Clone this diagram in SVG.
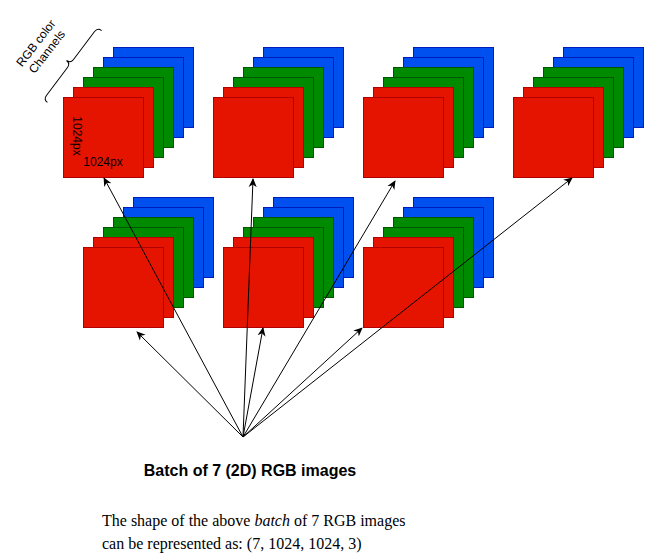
<svg xmlns="http://www.w3.org/2000/svg" xmlns:xlink="http://www.w3.org/1999/xlink" width="645" height="558" viewBox="0 0 645 558">
<style>
.r{fill:#e51400;stroke:#b20000;stroke-width:1}
.g{fill:#008a00;stroke:#005700;stroke-width:1}
.b{fill:#0050ef;stroke:#001dbc;stroke-width:1}
.c{stroke:#000;stroke-width:1;fill:none;marker-end:url(#ah)}
.lbl{font-family:"Liberation Sans",Arial,sans-serif;font-size:12px;fill:#000}
.px{font-family:"Liberation Sans",Arial,sans-serif;font-size:12px;fill:#000}
.title{font-family:"Liberation Sans",Arial,sans-serif;font-size:16px;font-weight:bold;fill:#000}
.note{font-family:"Liberation Serif","Times New Roman",serif;font-size:16px;fill:#000}
</style>
<defs>
<marker id="ah" viewBox="0 0 10 10" refX="9" refY="5" markerWidth="9" markerHeight="9" markerUnits="userSpaceOnUse" orient="auto">
<path d="M0,0.5 L10,5 L0,9.5 L3,5 z" fill="#000"/>
</marker>
<g id="stack">
<rect class="b" x="50.5" y="-49.5" width="80" height="80"/>
<rect class="b" x="40.5" y="-39.5" width="80" height="80"/>
<rect class="g" x="30.5" y="-29.5" width="80" height="80"/>
<rect class="g" x="20.5" y="-19.5" width="80" height="80"/>
<rect class="r" x="10.5" y="-9.5" width="80" height="80"/>
<rect class="r" x="0.5" y="0.5" width="80" height="80"/>
</g>
</defs>
<rect width="645" height="558" fill="#fff"/>
<g id="img1"><use xlink:href="#stack" href="#stack" transform="translate(63,97)"/>
<text class="px" transform="translate(73,136) rotate(90)" text-anchor="middle">1024px</text>
<text class="px" x="103" y="166" text-anchor="middle">1024px</text>
</g>
<g id="img2"><use xlink:href="#stack" href="#stack" transform="translate(213,97)"/></g>
<g id="img3"><use xlink:href="#stack" href="#stack" transform="translate(363,97)"/></g>
<g id="img4"><use xlink:href="#stack" href="#stack" transform="translate(513,97)"/></g>
<g id="img5"><use xlink:href="#stack" href="#stack" transform="translate(83,247)"/></g>
<g id="img6"><use xlink:href="#stack" href="#stack" transform="translate(223,247)"/></g>
<g id="img7"><use xlink:href="#stack" href="#stack" transform="translate(363,247)"/></g>
<g id="channels">
<path d="M-45,5 Q-45,0 -40,0 L-5,0 Q0,0 0,-5 Q0,0 5,0 L40,0 Q45,0 45,5" fill="none" stroke="#000" stroke-width="1" transform="translate(70.5,63.5) rotate(-53)"/>
<g transform="translate(41.5,47.5) rotate(-52)">
<text class="lbl" x="0" y="-3" text-anchor="middle">RGB color</text>
<text class="lbl" x="0" y="11" text-anchor="middle">Channels</text>
</g>
</g>
<g id="connectors">
<line class="c" x1="243" y1="437" x2="104" y2="178"/>
<line class="c" x1="243" y1="437" x2="253" y2="179"/>
<line class="c" x1="243" y1="437" x2="395" y2="181"/>
<line class="c" x1="243" y1="437" x2="572" y2="178"/>
<line class="c" x1="243" y1="437" x2="137" y2="332"/>
<line class="c" x1="243" y1="437" x2="263" y2="328"/>
<line class="c" x1="243" y1="437" x2="362" y2="328"/>
</g>
<g id="title"><text class="title" x="250" y="476" text-anchor="middle">Batch of 7 (2D) RGB images</text></g>
<g id="note">
<text class="note" x="102" y="526">The shape of the above <tspan font-style="italic">batch</tspan> of 7 RGB images</text>
<text class="note" x="102" y="549">can be represented as: (7, 1024, 1024, 3)</text>
</g>
</svg>
